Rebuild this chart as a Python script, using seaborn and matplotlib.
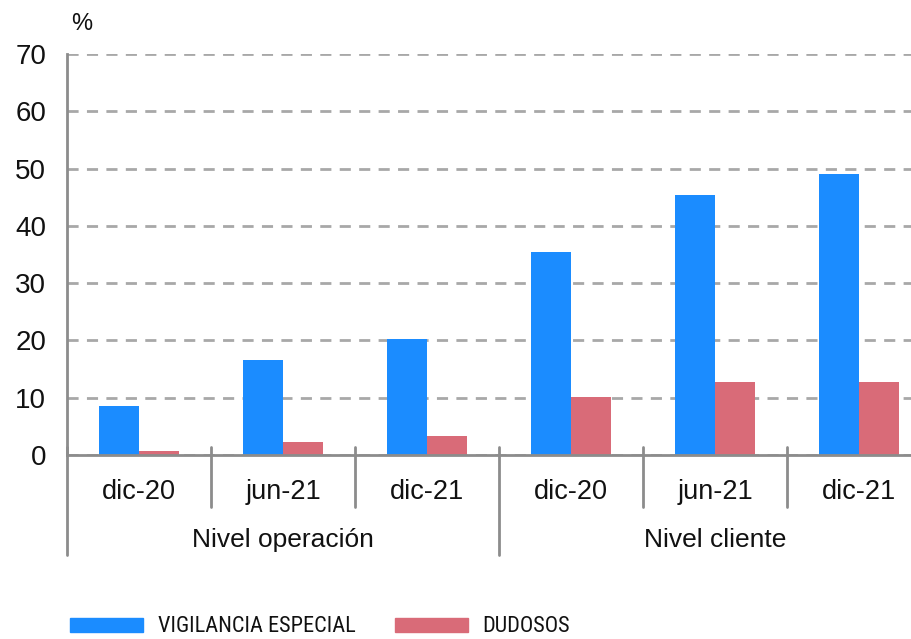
import pandas as pd
import seaborn as sns
import matplotlib.pyplot as plt
import matplotlib.transforms as mtransforms
from matplotlib import font_manager

# data
niveles = ["Nivel operación", "Nivel cliente"]
periodos = ["dic-20", "jun-21", "dic-21"]
series = ["VIGILANCIA ESPECIAL", "DUDOSOS"]
vigilancia = [8.6, 16.5, 20.2, 35.4, 45.4, 49.1]
dudosos = [0.7, 2.3, 3.4, 10.2, 12.8, 12.8]

colores = {"VIGILANCIA ESPECIAL": "#1B8CFF", "DUDOSOS": "#D96B78"}

claves = [f"{n}|{p}" for n in niveles for p in periodos]
df = pd.DataFrame({
    "clave": claves * 2,
    "serie": [series[0]] * 6 + [series[1]] * 6,
    "valor": vigilancia + dudosos,
})

sns.set_style("white")
nombres = {f.name for f in font_manager.fontManager.ttflist}
fuente = "Liberation Sans" if "Liberation Sans" in nombres else "DejaVu Sans"
estrecha = None
for cand in ["Liberation Sans Narrow", "Roboto Condensed", "Open Sans Condensed",
             "DejaVu Sans Condensed", "Noto Sans Condensed"]:
    if cand in nombres:
        estrecha = cand
        break
plt.rcParams["font.family"] = [fuente, "DejaVu Sans"]

fig = plt.figure(figsize=(9.11, 6.39), dpi=100)
ax = fig.add_axes([67 / 911, 1 - 455 / 639, 1 - 67 / 911, (455 - 54) / 639])

sns.barplot(data=df, x="clave", y="valor", hue="serie", palette=colores,
            order=claves, hue_order=series, width=0.56, gap=0, saturation=1,
            linewidth=0, ax=ax, legend=False)

gris = "#8c8c8c"
negro = "#111111"
ax.set_ylim(0, 70)
ax.set_xlim(-0.5, 5.36)
ax.set_yticks(range(0, 71, 10))
ax.yaxis.grid(True, color="#a8a8a8", linestyle=(0, (4, 3)), linewidth=2)
ax.set_axisbelow(True)
ax.tick_params(axis="y", direction="in", length=7, width=2, color=gris,
               labelsize=20, pad=15, labelcolor=negro)
ax.tick_params(axis="x", length=0, labelsize=19.5, pad=17, labelcolor=negro)
ax.set_xticks(range(6))
ax.set_xticklabels(periodos * 2)
ax.set_xlabel("")
ax.set_ylabel("")
for s in ["top", "right"]:
    ax.spines[s].set_visible(False)
for s in ["left", "bottom"]:
    ax.spines[s].set_color(gris)
    ax.spines[s].set_linewidth(2)

# two-level axis separators
trans = mtransforms.blended_transform_factory(ax.transData, ax.transAxes)
for x in [0.5, 1.5, 3.5, 4.5]:
    ax.plot([x, x], [0.02, -0.13], color=gris, lw=2, transform=trans, clip_on=False)
for x in [-0.5, 2.5]:
    ax.plot([x, x], [0.02, -0.25], color=gris, lw=2, transform=trans, clip_on=False)
for i, n in enumerate(niveles):
    ax.text(1 + 3 * i, -0.212, n, transform=trans, ha="center", va="center",
            fontsize=19, color=negro)

fig.text(82 / 911, 1 - 24 / 639, "%", ha="center", va="center", fontsize=17,
         color=negro)

if estrecha:
    prop = {"family": estrecha, "size": 16}
    sep = 1.75
else:
    prop = {"family": fuente, "size": 13.5}
    sep = 2.7
handles = [plt.Rectangle((0, 0), 1, 1, color=colores[s]) for s in series]
fig.legend(handles, series, loc="center left",
           bbox_to_anchor=(70 / 911, 1 - 627 / 639),
           ncol=2, frameon=False, handlelength=73 / (prop["size"] * 100 / 72),
           handleheight=0.6, handletextpad=15 / (prop["size"] * 100 / 72),
           columnspacing=sep, borderpad=0, borderaxespad=0, labelcolor=negro,
           prop=prop)

fig.savefig("out.png", dpi=100)
